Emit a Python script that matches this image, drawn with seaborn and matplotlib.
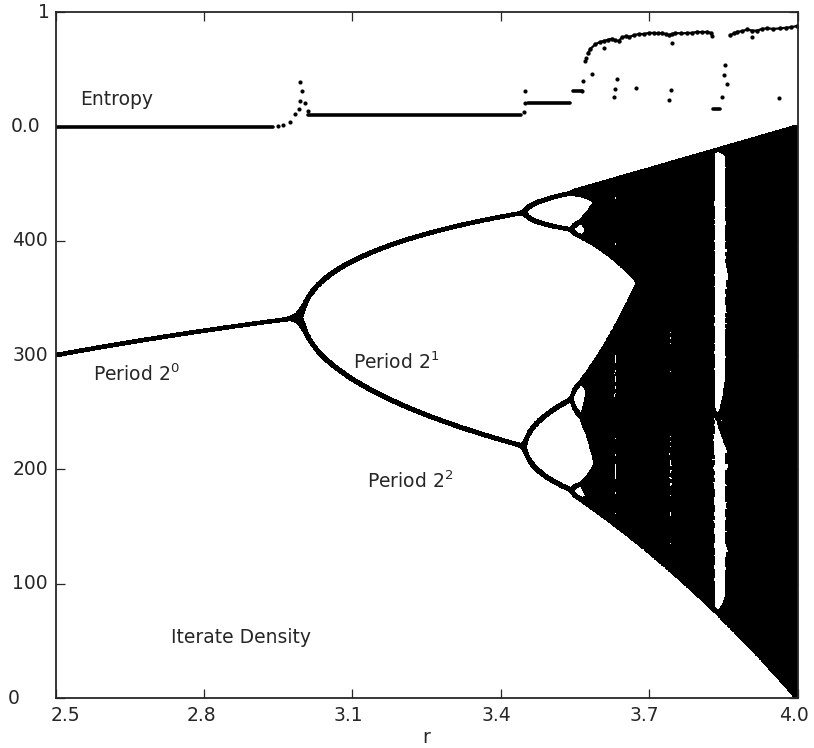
import numpy as np
import pandas as pd
import matplotlib
matplotlib.use("Agg")
import matplotlib.pyplot as plt
import matplotlib.transforms as mtransforms
import seaborn as sns

# ---------------- data ----------------
r_limits = [2.5, 4.0]
n_r = 1700
n_transient = 150
n_keep = 320
x_start = 0.5
density_scale = 500          # iterate value x in [0,1] -> 0..500
entropy_base = 500           # entropy 0 -> 500 on the shared axis
entropy_scale = 100          # entropy 1 -> 600

x_ticks = [2.5, 2.8, 3.1, 3.4, 3.7, 4.0]
x_tick_labels = ["2.5", "2.8", "3.1", "3.4", "3.7", "4.0"]
y_ticks = [0, 100, 200, 300, 400, 500, 600]
y_tick_labels = ["0", "100", "200", "300", "400", "0.0", "1"]

# entropy plateaus
plateau_r_start = [2.50, 3.011, 3.455, 3.545, 3.828]
plateau_r_end = [2.94, 3.440, 3.540, 3.565, 3.844]
plateau_value = [0.0, 0.10, 0.205, 0.31, 0.15]

# entropy, chaotic branch (two pieces around the period-3 window)
chaos_r_a = [3.576, 3.581, 3.591, 3.600, 3.608, 3.617, 3.625, 3.631, 3.638, 3.645,
             3.652, 3.660, 3.669, 3.679, 3.689, 3.699, 3.709, 3.717, 3.726, 3.733,
             3.739, 3.746, 3.753, 3.765, 3.777, 3.787, 3.797, 3.807, 3.817, 3.824]
chaos_e_a = [0.64, 0.68, 0.72, 0.74, 0.75, 0.76, 0.77, 0.755, 0.75, 0.78,
             0.79, 0.785, 0.80, 0.81, 0.81, 0.82, 0.82, 0.815, 0.82, 0.81,
             0.80, 0.81, 0.82, 0.815, 0.82, 0.82, 0.83, 0.825, 0.83, 0.82]
chaos_r_b = [3.864, 3.871, 3.878, 3.888, 3.898, 3.908, 3.918, 3.928, 3.938,
             3.951, 3.965, 3.976, 3.986, 3.999]
chaos_e_b = [0.80, 0.815, 0.83, 0.835, 0.85, 0.84, 0.84, 0.855, 0.86,
             0.855, 0.86, 0.865, 0.87, 0.88]

# isolated entropy points
dots_r = [2.950, 2.960, 2.974, 2.984, 2.991, 2.994, 3.004, 2.998, 2.994, 3.010,
          3.446, 3.449, 3.449,
          3.564, 3.567, 3.571, 3.572, 3.584, 3.608, 3.628, 3.631, 3.635, 3.674,
          3.739, 3.743, 3.746, 3.827, 3.847, 3.851, 3.853, 3.857, 3.908, 3.962]
dots_e = [0.005, 0.01, 0.04, 0.11, 0.155, 0.22, 0.21, 0.315, 0.387, 0.14,
          0.125, 0.21, 0.315,
          0.31, 0.40, 0.57, 0.60, 0.46, 0.69, 0.26, 0.33, 0.42, 0.34,
          0.23, 0.32, 0.73, 0.79, 0.26, 0.45, 0.54, 0.37, 0.78, 0.25]

labels_text = ["Entropy", "Period $2^0$", "Period $2^1$", "Period $2^2$", "Iterate Density"]
labels_r = [2.549, 2.575, 3.101, 3.130, 2.733]
labels_y = [524, 283, 294, 190, 53]

# ---------------- logistic-map iterates ----------------
r_vals = np.linspace(r_limits[0], r_limits[1], n_r)
x = np.full(n_r, x_start)
for _ in range(n_transient):
    x = r_vals * x * (1 - x)
rs, xs = [], []
for _ in range(n_keep):
    x = r_vals * x * (1 - x)
    rs.append(r_vals.copy())
    xs.append(x.copy())
iterates = pd.DataFrame({"r": np.concatenate(rs),
                         "density": np.concatenate(xs) * density_scale})

# ---------------- figure ----------------
sns.set_style("ticks")
plt.rcParams["font.family"] = ["DejaVu Sans"]
fs = 13.5

fig = plt.figure(figsize=(8.14, 7.48), dpi=100)
ax = fig.add_axes([0.0684, 0.0668, 0.9115, 0.9167])

sns.scatterplot(data=iterates, x="r", y="density", ax=ax, s=9, marker="s",
                color="black", linewidth=0, edgecolor="none", legend=False,
                rasterized=True)

for a, b, v in zip(plateau_r_start, plateau_r_end, plateau_value):
    seg = pd.DataFrame({"r": [a, b], "y": [entropy_base + entropy_scale * v] * 2})
    sns.lineplot(data=seg, x="r", y="y", ax=ax, color="black", linewidth=2.6,
                 sort=False)
for rr, ee in [(chaos_r_a, chaos_e_a), (chaos_r_b, chaos_e_b)]:
    seg = pd.DataFrame({"r": rr, "y": entropy_base + entropy_scale * np.array(ee)})
    sns.lineplot(data=seg, x="r", y="y", ax=ax, color="black", linewidth=1.6,
                 sort=False, marker="o", markersize=3.2, markeredgewidth=0)
dots = pd.DataFrame({"r": dots_r, "y": entropy_base + entropy_scale * np.array(dots_e)})
sns.scatterplot(data=dots, x="r", y="y", ax=ax, s=9, color="black",
                linewidth=0, legend=False)

ax.set_xlim(r_limits)
ax.set_ylim(0, 600)
ax.set_xticks(x_ticks)
ax.set_yticks(y_ticks)
ax.tick_params(direction="in", length=6.5, width=0.9, top=True, right=True,
               labelbottom=False, labelleft=False)
for s in ax.spines.values():
    s.set_linewidth(1.3)
    s.set_visible(True)

# tick labels as text
ytr = mtransforms.blended_transform_factory(ax.transAxes, ax.transData)
y_label_x = [-0.0643, -0.0104, -0.0104, -0.0104, -0.0104, -0.0212, -0.0077]
y_label_ha = ["left", "right", "right", "right", "right", "right", "right"]
for v, t, xx, ha in zip(y_ticks, y_tick_labels, y_label_x, y_label_ha):
    ax.text(xx, v, t, transform=ytr, ha=ha, va="center", fontsize=fs)

xtr = mtransforms.blended_transform_factory(ax.transData, ax.transAxes)
x_label_shift = [0.0206, -0.006, -0.008, -0.008, -0.010, -0.008]
for v, t, d in zip(x_ticks, x_tick_labels, x_label_shift):
    ax.text(v + d, -0.0248, t, transform=xtr, ha="center", va="center", fontsize=fs)

ax.set_xlabel("")
ax.set_ylabel("")
ax.text(0.5, -0.058, "r", transform=ax.transAxes, ha="center", va="center",
        fontsize=fs)

for t, rr, yy in zip(labels_text, labels_r, labels_y):
    ax.text(rr, yy, t, ha="left", va="center", fontsize=fs)

fig.savefig("out.png", dpi=100)
